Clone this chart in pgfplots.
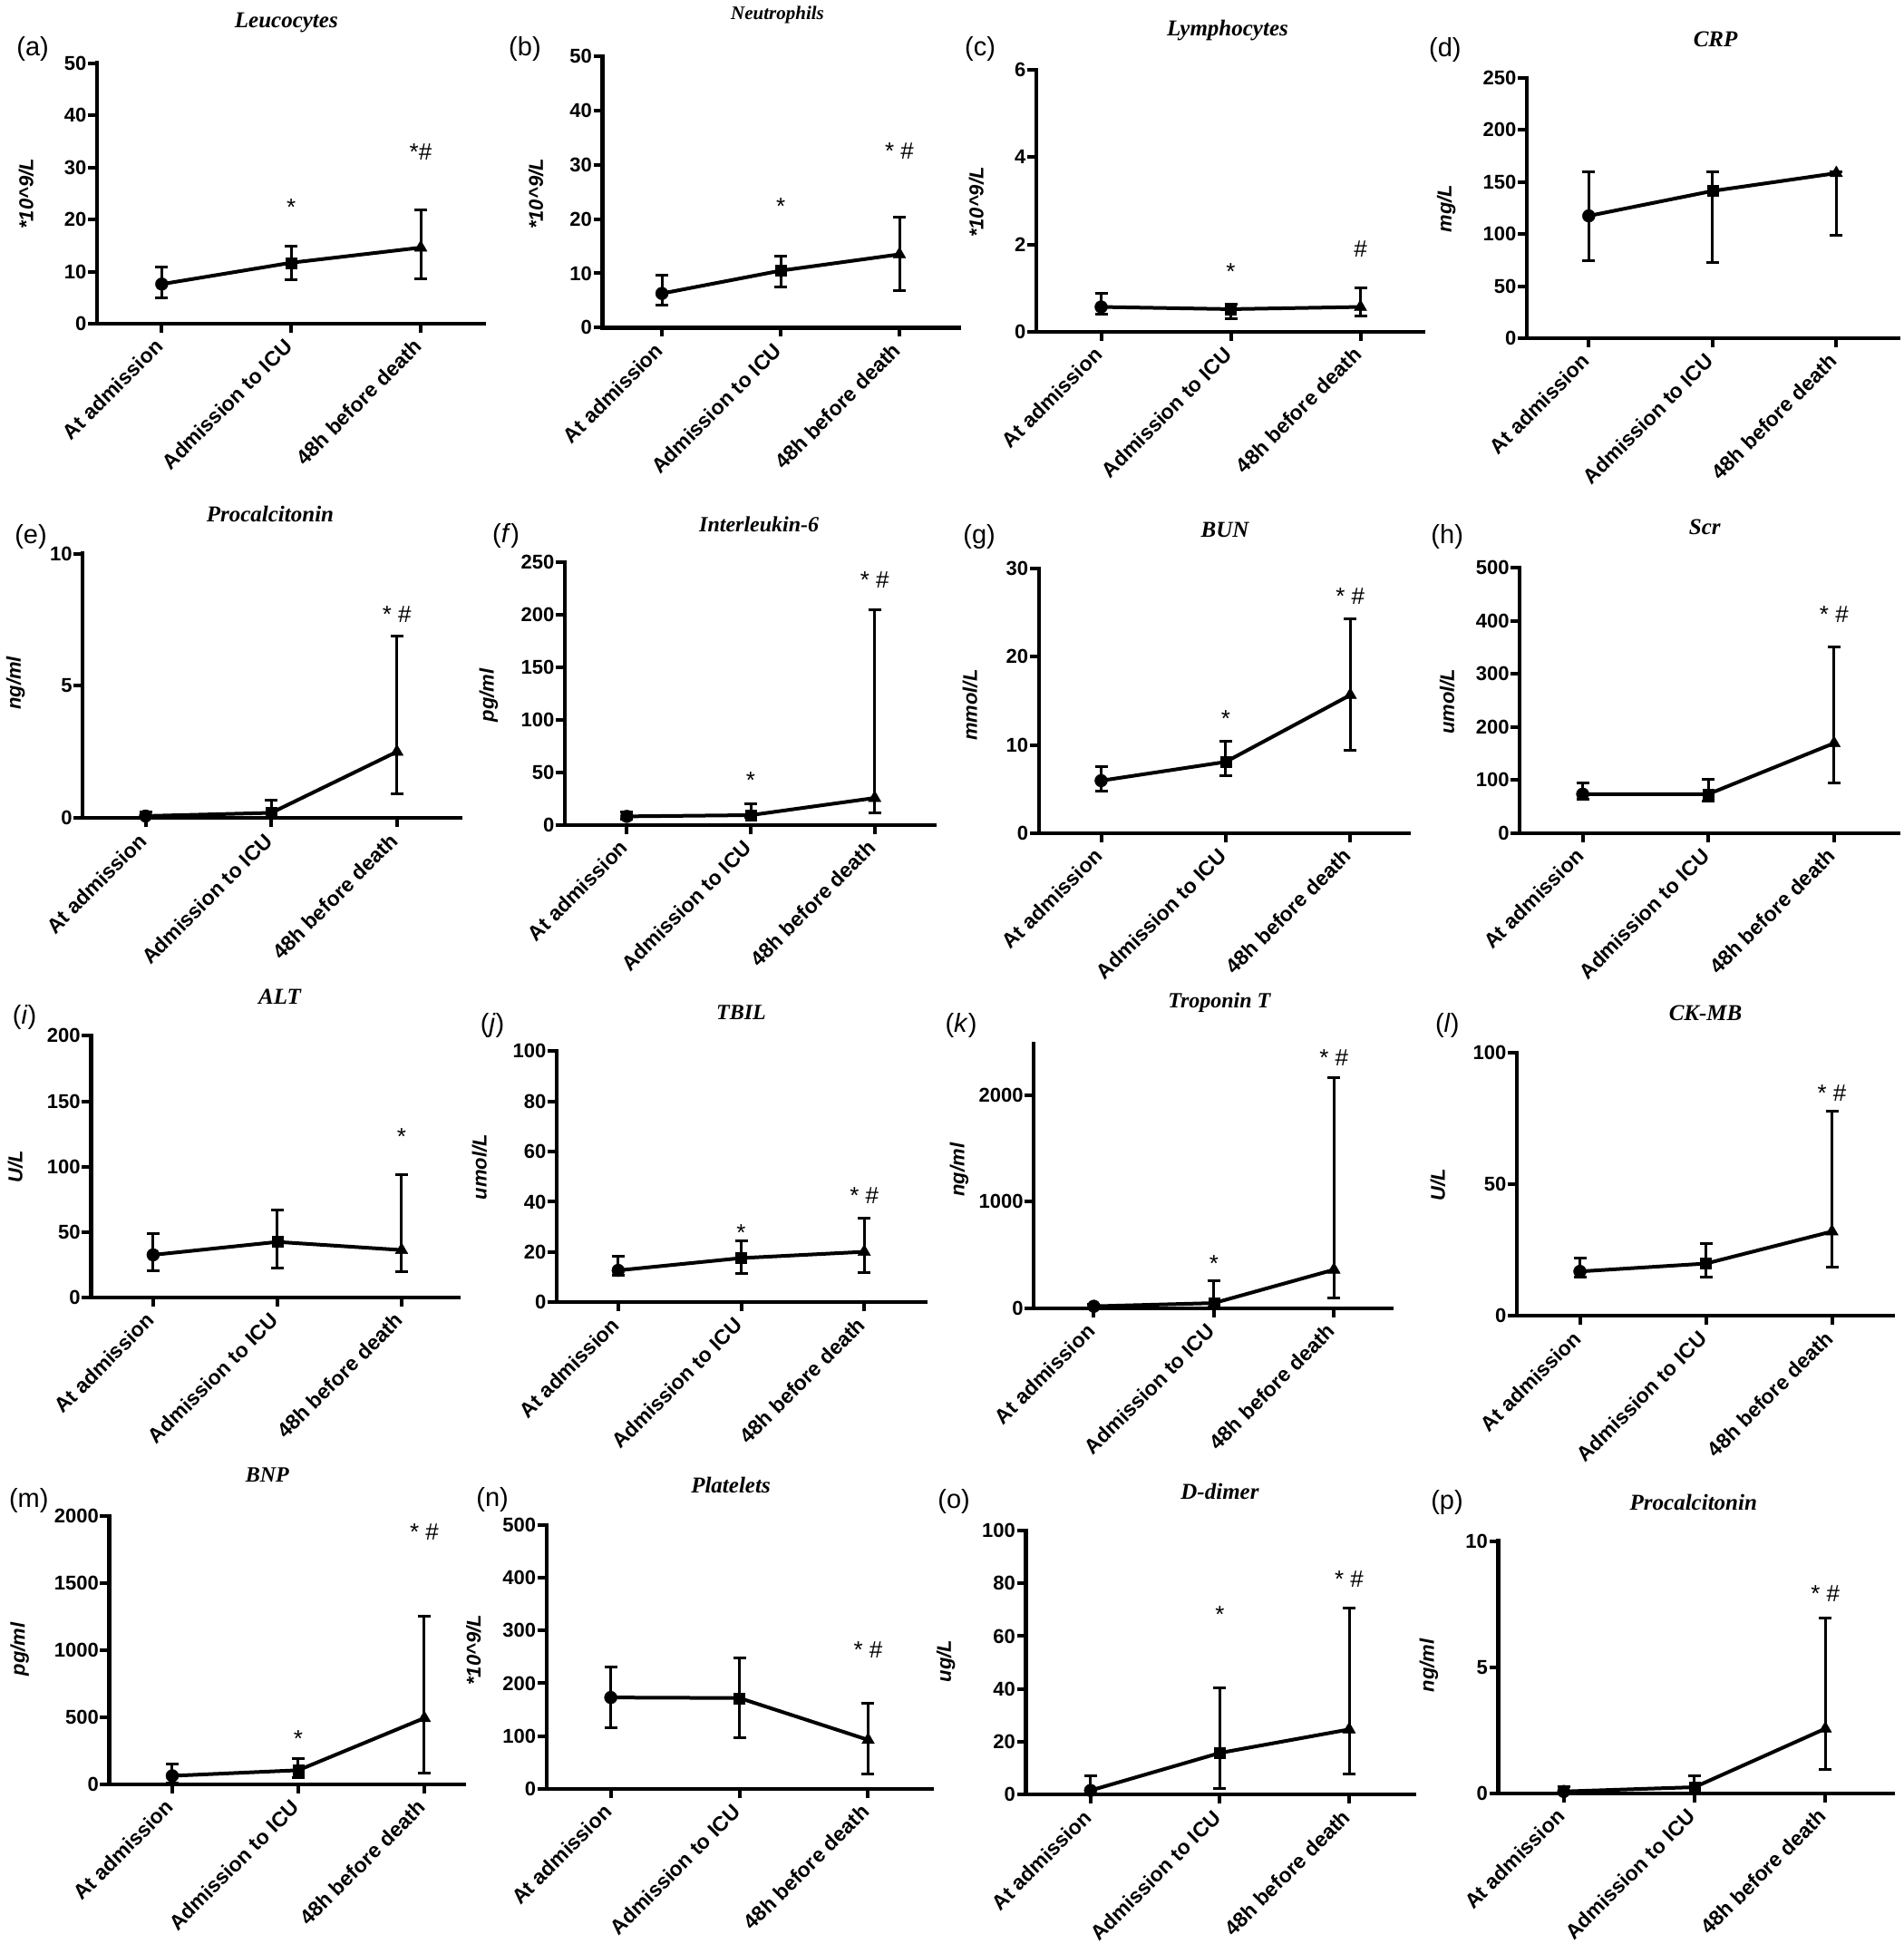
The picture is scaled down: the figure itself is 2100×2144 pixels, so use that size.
\documentclass[border=0pt]{standalone}
\usepackage{fontspec}
\setmainfont{Liberation Sans}
\newfontfamily\timesf{Liberation Serif}
\usepackage{pgfplots}
\pgfplotsset{compat=1.18}
\pgfplotsset{
 every axis title shift=0pt,
 gp/.style={
  scale only axis, anchor=south west,
  axis lines*=left,
  axis line style={line width=4.3pt, line cap=rect, black},
  xmin=-0.5, ymin=0,
  xtick={0,1,2}, xticklabels={At admission, Admission to ICU, 48h before death},
  tick align=outside, major tick length=10pt,
  major tick style={line width=4pt, black},
  minor tick num=0,
  xticklabel style={rotate=45, anchor=north east, inner sep=1pt, yshift=4pt, xshift=-9pt, font=\bfseries\fontsize{23}{27}\selectfont},
  yticklabel style={inner sep=1.5pt, font=\bfseries\fontsize{22}{26}\selectfont},
  /pgf/number format/assume math mode=true,
  /pgf/number format/1000 sep={},
  scaled y ticks=false,
  clip=false,
  title style={font=\timesf\bfseries\itshape\fontsize{25}{30}\selectfont, anchor=center},
  ylabel style={font=\bfseries\itshape\fontsize{22}{26}\selectfont, anchor=center},
 },
 eb/.style={black, line width=4pt, mark=none,
  error bars/.cd, y dir=both, y explicit,
  error bar style={line width=3pt, black},
  error mark options={rotate=90, mark size=7pt, line width=3pt, black}},
}
\tikzset{
 lett/.style={font=\fontsize{29}{32}\selectfont, anchor=center},
 star/.style={font=\fontsize{26}{30}\selectfont, anchor=center, yshift=-5pt},
 star2/.style={font=\fontsize{26}{30}\selectfont, anchor=center},
}
% values: v1 up1 down1 v2 up2 down2 v3 up3 down3
\newcommand\series[9]{%
 \addplot[eb] coordinates {(0,#1) += (0,#2) -= (0,#3) (1,#4) += (0,#5) -= (0,#6) (2,#7) += (0,#8) -= (0,#9)};
 \addplot[only marks, mark=*, mark size=7pt, black] coordinates {(0,#1)};
 \addplot[only marks, mark=square*, mark size=6pt, black] coordinates {(1,#4)};
 \addplot[only marks, mark=triangle*, mark size=8pt, black] coordinates {(2,#7)};
}
\begin{document}
\begin{tikzpicture}
\useasboundingbox (0,0) rectangle (2100pt,-2144pt);
% ---------------- row 1
\begin{axis}[gp, at={(107pt,-357pt)}, width=427pt, height=287.4pt, xmax=2.49, ymax=50, ytick={0,10,20,30,40,50},
 title={Leucocytes}, title style={at={(axis description cs:0.489,1.155)}},
 ylabel={*10\textasciicircum 9/L}, ylabel style={at={(axis description cs:-0.183,0.498)}}]
\series{7.6}{3.3}{2.6}{11.7}{3.1}{3.3}{14.6}{7.3}{6.0}
\node[lett] at (axis description cs:-0.166,1.054) {(a)};
\node[star] at (axis cs:1,23.3) {*};
\node[star2] at (axis cs:2,33) {*\#};
\end{axis}
\begin{axis}[gp, at={(664.6pt,-361.4pt)}, width=392.9pt, height=299.6pt, xmax=2.5, ymax=50, ytick={0,10,20,30,40,50},
 title={Neutrophils}, title style={at={(axis description cs:0.491,1.153)}, font=\timesf\bfseries\itshape\fontsize{21}{25}\selectfont},
 ylabel={*10\textasciicircum 9/L}, ylabel style={at={(axis description cs:-0.187,0.492)}}]
\series{6.3}{3.35}{2.1}{10.5}{2.6}{3.05}{13.5}{6.9}{6.6}
\node[lett] at (axis description cs:-0.218,1.026) {(b)};
\node[star] at (axis cs:1,23.1) {*};
\node[star2] at (axis cs:2,32.6) {* \#};
\end{axis}
\begin{axis}[gp, at={(1143pt,-366pt)}, width=427pt, height=289.2pt, xmax=2.486, ymax=6, ytick={0,2,4,6},
 title={Lymphocytes}, title style={at={(axis description cs:0.494,1.148)}},
 ylabel={*10\textasciicircum 9/L}, ylabel style={at={(axis description cs:-0.155,0.494)}}]
\series{0.57}{0.32}{0.16}{0.52}{0.12}{0.22}{0.57}{0.44}{0.20}
\node[lett] at (axis description cs:-0.145,1.079) {(c)};
\node[star] at (axis cs:1,1.48) {*};
\node[star2] at (axis cs:2,1.89) {\#};
\end{axis}
\begin{axis}[gp, at={(1684pt,-373pt)}, width=409.6pt, height=287.3pt, xmax=2.5, ymax=250, ytick={0,50,100,150,200,250},
 title={CRP}, title style={at={(axis description cs:0.508,1.149)}},
 ylabel={mg/L}, ylabel style={at={(axis description cs:-0.217,0.498)}}]
\series{117.4}{41.9}{42.9}{141.3}{18}{68.9}{158.4}{1.6}{59.6}
\node[lett] at (axis description cs:-0.22,1.107) {(d)};
\end{axis}
% ---------------- row 2
\begin{axis}[gp, at={(91.3pt,-902.3pt)}, width=416.7pt, height=291.7pt, xmax=2.507, ymax=10, ytick={0,5,10},
 title={Procalcitonin}, title style={at={(axis description cs:0.496,1.148)}},
 ylabel={ng/ml}, ylabel style={at={(axis description cs:-0.178,0.51)}}]
\series{0.08}{0.14}{0.06}{0.2}{0.47}{0.18}{2.51}{4.39}{1.6}
\node[lett] at (axis description cs:-0.1375,1.065) {(e)};
\node[star2] at (axis cs:2,7.7) {* \#};
\end{axis}
\begin{axis}[gp, at={(623pt,-910pt)}, width=408pt, height=290.1pt, xmax=2.485, ymax=250, ytick={0,50,100,150,200,250},
 title={Interleukin-6}, title style={at={(axis description cs:0.525,1.144)}, font=\timesf\bfseries\itshape\fontsize{24}{28}\selectfont},
 ylabel={pg/ml}, ylabel style={at={(axis description cs:-0.206,0.493)}}]
\series{8.3}{4.5}{2.4}{9.5}{10.7}{2.1}{25.8}{179.2}{14.5}
\node[lett] at (axis description cs:-0.159,1.098) {(\textit{f})};
\node[star] at (axis cs:1,46.6) {*};
\node[star2] at (axis cs:2,233) {* \#};
\end{axis}
\begin{axis}[gp, at={(1145.8pt,-918.8pt)}, width=407.9pt, height=291.7pt, xmax=2.469, ymax=30, ytick={0,10,20,30},
 title={BUN}, title style={at={(axis description cs:0.503,1.145)}},
 ylabel={mmol/L}, ylabel style={at={(axis description cs:-0.186,0.484)}}]
\series{5.95}{1.63}{1.17}{8.08}{2.37}{1.6}{15.66}{8.61}{6.31}
\node[lett] at (axis description cs:-0.161,1.122) {(g)};
\node[star] at (axis cs:1,13.5) {*};
\node[star2] at (axis cs:2,26.85) {* \#};
\end{axis}
\begin{axis}[gp, at={(1676.3pt,-918.8pt)}, width=417.2pt, height=292.7pt, xmax=2.51, ymax=500, ytick={0,100,200,300,400,500},
 title={Scr}, title style={at={(axis description cs:0.489,1.154)}},
 ylabel={umol/L}, ylabel style={at={(axis description cs:-0.192,0.495)}}]
\series{73.5}{20.6}{10.6}{73.5}{27.7}{12.9}{169.4}{180.6}{74.1}
\node[lett] at (axis description cs:-0.192,1.118) {(h)};
\node[star2] at (axis cs:2,411.8) {* \#};
\end{axis}
% ---------------- row 3
\begin{axis}[gp, at={(100.4pt,-1430.8pt)}, width=405.1pt, height=288.4pt, xmax=2.457, ymax=200, ytick={0,50,100,150,200},
 title={ALT}, title style={at={(axis description cs:0.514,1.150)}},
 ylabel={U/L}, ylabel style={at={(axis description cs:-0.206,0.499)}}]
\series{32.5}{16}{12.3}{42.4}{24.4}{20.3}{36.2}{57.9}{16.9}
\node[lett] at (axis description cs:-0.181,1.071) {(\textit{i})};
\node[star] at (axis cs:2,126.6) {*};
\end{axis}
\begin{axis}[gp, at={(614pt,-1436.2pt)}, width=407pt, height=276.8pt, xmax=2.5, ymax=100, ytick={0,20,40,60,80,100},
 title={TBIL}, title style={at={(axis description cs:0.5,1.153)}, font=\timesf\bfseries\itshape\fontsize{24}{28}\selectfont},
 ylabel={umol/L}, ylabel style={at={(axis description cs:-0.209,0.539)}}]
\series{12.7}{5.7}{1.9}{17.6}{6.9}{6.1}{20.1}{13.5}{8.3}
\node[lett] at (axis description cs:-0.174,1.103) {(\textit{j})};
\node[star] at (axis cs:1,29.4) {*};
\node[star2] at (axis cs:2,42.4) {* \#};
\end{axis}
\begin{axis}[gp, at={(1140.2pt,-1443pt)}, width=395pt, height=291.8pt, xmax=2.483, ymax=2480, ytick={0,1000,2000},
 title={Troponin T}, title style={at={(axis description cs:0.518,1.156)}, font=\timesf\bfseries\itshape\fontsize{24}{28}\selectfont},
 ylabel={ng/ml}, ylabel style={at={(axis description cs:-0.208,0.524)}}]
\series{20}{20}{15}{50}{209}{40}{363}{1798}{265}
\node[lett] at (axis description cs:-0.203,1.069) {(\textit{k})};
\node[star] at (axis cs:1,461) {*};
\node[star2] at (axis cs:2,2346) {* \#};
\end{axis}
\begin{axis}[gp, at={(1673pt,-1451.2pt)}, width=415.2pt, height=289.8pt, xmax=2.487, ymax=100, ytick={0,50,100},
 title={CK-MB}, title style={at={(axis description cs:0.501,1.153)}},
 ylabel={U/L}, ylabel style={at={(axis description cs:-0.21,0.498)}}]
\series{16.9}{5.1}{2.1}{19.9}{7.5}{5.1}{32.1}{45.7}{13.4}
\node[lett] at (axis description cs:-0.185,1.105) {(\textit{l})};
\node[star2] at (axis cs:2,84.8) {* \#};
\end{axis}
% ---------------- row 4
\begin{axis}[gp, at={(120.5pt,-1967.8pt)}, width=391pt, height=296.1pt, xmax=2.313, ymax=2000, ytick={0,500,1000,1500,2000},
 title={BNP}, title style={at={(axis description cs:0.446,1.152)}, font=\timesf\bfseries\itshape\fontsize{24}{28}\selectfont},
 ylabel={pg/ml}, ylabel style={at={(axis description cs:-0.253,0.503)}}]
\series{63}{90}{56}{104.5}{89.5}{53.5}{493}{761}{408}
\node[lett] at (axis description cs:-0.227,1.055) {(m)};
\node[star] at (axis cs:1,372) {*};
\node[star2] at (axis cs:2,1878) {* \#};
\end{axis}
\begin{axis}[gp, at={(602.7pt,-1972.8pt)}, width=425.3pt, height=291pt, xmax=2.497, ymax=500, ytick={0,100,200,300,400,500},
 title={Platelets}, title style={at={(axis description cs:0.478,1.152)}},
 ylabel={*10\textasciicircum 9/L}, ylabel style={at={(axis description cs:-0.189,0.526)}}]
\series{173}{58}{57.3}{172}{76.5}{76}{92.7}{69.3}{64.7}
\node[lett] at (axis description cs:-0.14,1.097) {(n)};
\node[star2] at (axis cs:2,264) {* \#};
\end{axis}
\begin{axis}[gp, at={(1131.5pt,-1979.3pt)}, width=428.8pt, height=291.4pt, xmax=2.507, ymax=100, ytick={0,20,40,60,80,100},
 title={D-dimer}, title style={at={(axis description cs:0.499,1.148)}},
 ylabel={ug/L}, ylabel style={at={(axis description cs:-0.206,0.506)}}]
\series{1.6}{5.6}{1.4}{15.8}{24.6}{13.3}{24.7}{46}{16.7}
\node[lett] at (axis description cs:-0.185,1.111) {(o)};
\node[star] at (axis cs:1,69.8) {*};
\node[star2] at (axis cs:2,81.5) {* \#};
\end{axis}
\begin{axis}[gp, at={(1652.6pt,-1977.7pt)}, width=435.6pt, height=278.2pt, xmax=2.52, ymax=10, ytick={0,5,10},
 title={Procalcitonin}, title style={at={(axis description cs:0.494,1.153)}},
 ylabel={ng/ml}, ylabel style={at={(axis description cs:-0.176,0.507)}}]
\series{0.07}{0.2}{0.06}{0.24}{0.44}{0.22}{2.56}{4.39}{1.63}
\node[lett] at (axis description cs:-0.13,1.153) {(p)};
\node[star2] at (axis cs:2,7.9) {* \#};
\end{axis}
\end{tikzpicture}
\end{document}
